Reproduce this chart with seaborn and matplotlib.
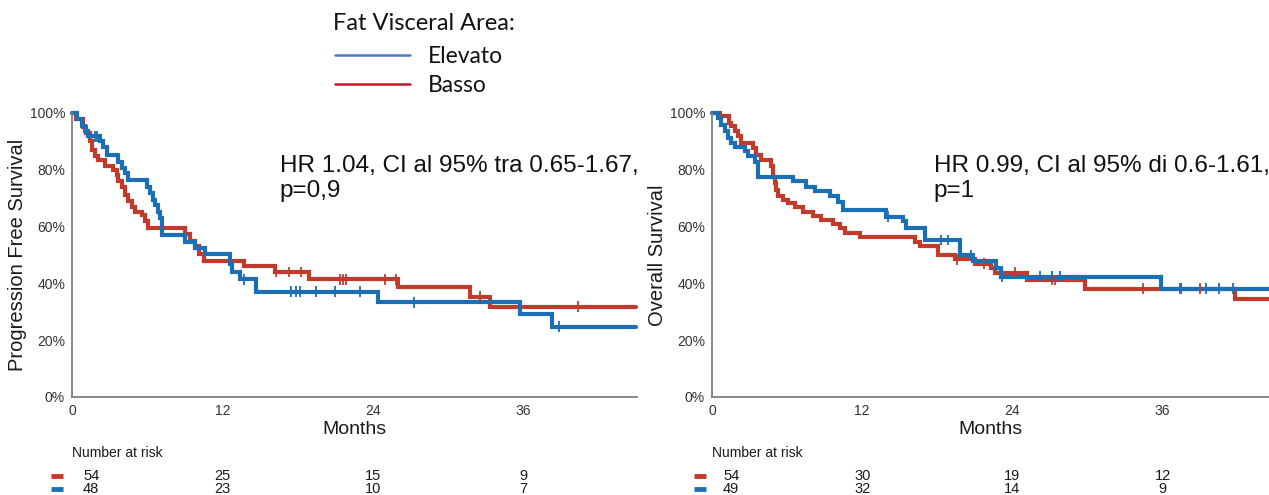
import numpy as np
import pandas as pd
import matplotlib
matplotlib.use("Agg")
import matplotlib.pyplot as plt
import seaborn as sns
from matplotlib.lines import Line2D
from matplotlib.transforms import blended_transform_factory, offset_copy

# ---------------- data ----------------
groups = ["Basso", "Elevato"]
legend_labels = ["Elevato", "Basso"]

# Progression free survival
pfs_basso_t = [0, 0.3, 0.9, 1.1, 1.4, 1.6, 1.8, 2.1, 2.6, 3.3, 3.6, 3.7, 4.0, 4.2, 4.5, 4.8,
               5.0, 5.6, 5.8, 6.1, 9.0, 9.4, 9.8, 10.1, 10.5, 13.7, 16.2, 18.9, 26.0,
               31.8, 33.4, 45.0]
pfs_basso_s = [1.0, 0.98, 0.95, 0.93, 0.90, 0.87, 0.85, 0.835, 0.815, 0.80, 0.78, 0.76, 0.74,
               0.71, 0.69, 0.67, 0.65, 0.64, 0.62, 0.594, 0.575, 0.55, 0.53, 0.505, 0.48,
               0.46, 0.44, 0.415, 0.386, 0.353, 0.318, 0.318]
pfs_basso_cens = [16.3, 17.3, 18.3, 21.4, 21.65, 21.9, 25.0, 25.9, 32.6, 40.4]

pfs_elev_t = [0, 0.4, 0.77, 1.04, 1.3, 2.23, 2.5, 2.77, 3.7, 3.96, 4.23, 4.5, 5.96, 6.2, 6.5,
              6.6, 6.9, 7.05, 7.16, 9.0, 9.8, 10.6, 12.6, 12.75, 13.4, 14.7, 24.4, 35.8,
              38.3, 45.0]
pfs_elev_s = [1.0, 0.98, 0.953, 0.935, 0.918, 0.90, 0.882, 0.853, 0.829, 0.806, 0.788, 0.765,
              0.741, 0.718, 0.694, 0.676, 0.653, 0.63, 0.571, 0.547, 0.524, 0.504, 0.47,
              0.441, 0.415, 0.371, 0.333, 0.291, 0.247, 0.247]
pfs_elev_cens = [1.84, 2.0, 13.7, 17.5, 17.85, 18.2, 19.5, 21.0, 23.0, 27.3, 38.9]

# Overall survival
os_basso_t = [0, 0.6, 1.36, 1.55, 1.8, 2.08, 2.35, 3.28, 3.55, 3.95, 4.74, 4.87, 5.0, 5.14,
              5.27, 5.67, 6.07, 6.6, 7.27, 8.07, 8.7, 9.67, 10.2, 10.6, 11.8, 16.2, 16.6,
              18.05, 19.4, 21.0, 22.3, 22.6, 25.2, 29.8, 41.8, 44.5]
os_basso_s = [1.0, 0.988, 0.965, 0.953, 0.935, 0.918, 0.894, 0.876, 0.853, 0.835, 0.812,
              0.776, 0.753, 0.729, 0.706, 0.694, 0.682, 0.668, 0.653, 0.639, 0.624, 0.61,
              0.594, 0.576, 0.562, 0.547, 0.533, 0.50, 0.485, 0.47, 0.455, 0.438, 0.412,
              0.382, 0.344, 0.344]
os_basso_cens = [19.55, 21.7, 24.2, 27.2, 27.4, 34.4, 37.4, 37.5, 39.0]

os_elev_t = [0, 0.48, 0.75, 1.01, 1.28, 1.55, 1.8, 2.6, 2.88, 3.4, 3.67, 6.47, 7.54, 8.2, 9.4,
             10.06, 10.46, 13.9, 15.26, 15.5, 17.0, 19.8, 20.85, 22.7, 23.1, 35.9, 44.5]
os_elev_s = [1.0, 0.982, 0.959, 0.935, 0.912, 0.894, 0.882, 0.865, 0.847, 0.829, 0.776, 0.759,
             0.741, 0.724, 0.706, 0.688, 0.659, 0.635, 0.618, 0.594, 0.553, 0.50, 0.479,
             0.453, 0.424, 0.382, 0.382]
os_elev_cens = [14.06, 18.3, 18.85, 20.7, 23.2, 26.2, 27.2, 27.8, 37.5, 39.5, 40.5, 41.6]

risk_times = [0, 12, 24, 36]
pfs_risk_basso = [54, 25, 15, 9]
pfs_risk_elev = [48, 23, 10, 7]
os_risk_basso = [54, 30, 19, 12]
os_risk_elev = [49, 32, 14, 9]

y_ticks = [0, 0.2, 0.4, 0.6, 0.8, 1.0]
y_ticklabels = ["0%", "20%", "40%", "60%", "80%", "100%"]

hr_pfs = "HR 1.04, CI al 95% tra 0.65-1.67,\np=0,9"
hr_os = "HR 0.99, CI al 95% di 0.6-1.61,\np=1"

# ---------------- style ----------------
RED = "#c13b2c"
BLUE = "#1b70b5"
LEG_RED = "#c0182b"
LEG_BLUE = "#4a7cc7"
palette = {"Basso": RED, "Elevato": BLUE}

sns.set_style("white")
plt.rcParams["font.family"] = ["Liberation Sans", "DejaVu Sans"]

W, H = 1269, 495
fig = plt.figure(figsize=(W / 100, H / 100), dpi=100)


def px_axes(l, t, r, b):
    return fig.add_axes([l / W, 1 - b / H, (r - l) / W, (b - t) / H])


def curve_frame(tb, sb, te, se):
    return pd.concat([
        pd.DataFrame({"time": tb, "surv": sb, "group": "Basso"}),
        pd.DataFrame({"time": te, "surv": se, "group": "Elevato"}),
    ], ignore_index=True)


def cens_frame(tb, sb, cb, te, se, ce):
    def vals(t, s, c):
        idx = np.searchsorted(np.asarray(t), np.asarray(c), side="right") - 1
        return np.asarray(s)[idx]
    return pd.concat([
        pd.DataFrame({"time": cb, "surv": vals(tb, sb, cb), "group": "Basso"}),
        pd.DataFrame({"time": ce, "surv": vals(te, se, ce), "group": "Elevato"}),
    ], ignore_index=True)


def draw_panel(ax, curves, cens, xmax, ylabel, hr_text, risk_b, risk_e, ylab_x, hr_x):
    sns.lineplot(data=curves, x="time", y="surv", hue="group", hue_order=groups,
                 palette=palette, drawstyle="steps-post", linewidth=3.0,
                 estimator=None, sort=False, legend=False, ax=ax)
    sns.scatterplot(data=cens, x="time", y="surv", hue="group", hue_order=groups,
                    palette=palette, marker="|", s=60, linewidth=1.3,
                    legend=False, ax=ax, zorder=3)
    for ln in ax.lines:
        ln.set_clip_on(False)
        ln.set_solid_joinstyle("miter")
    ax.set_xlim(0, xmax)
    ax.set_ylim(0, 1.0)
    ax.set_xticks(risk_times)
    ax.set_xticklabels([str(t) for t in risk_times])
    ax.set_yticks(y_ticks)
    ax.set_yticklabels(y_ticklabels)
    for s in ["top", "right"]:
        ax.spines[s].set_visible(False)
    for s in ["left", "bottom"]:
        ax.spines[s].set_color("#7f7f7f")
        ax.spines[s].set_linewidth(1.3)
    ax.tick_params(axis="both", length=3, width=1, color="#7f7f7f",
                   labelsize=10, labelcolor="#333333", pad=2)
    ax.set_xlabel("Months", fontsize=14, color="#1a1a1a")
    ax.xaxis.set_label_coords(0.5, -0.083)
    ax.set_ylabel(ylabel, fontsize=14.5, color="#1a1a1a")
    ax.yaxis.set_label_coords(ylab_x, 0.5)
    ax.text(hr_x, 0.852, hr_text, transform=ax.transAxes, fontsize=17.5,
            va="top", ha="left", color="#111111", linespacing=1.2)

    # number at risk table
    tr = blended_transform_factory(ax.transData, fig.transFigure)
    ax.text(0, 1 - 453 / H, "Number at risk", transform=tr, fontsize=10,
            va="center", ha="left", color="#1a1a1a")
    rows = [(risk_b, 1 - 476 / H), (risk_e, 1 - 489 / H)]
    for vals, yy in rows:
        for t, v in zip(risk_times, vals):
            if t == risk_times[0]:
                trf = offset_copy(tr, fig=fig, x=11, y=0, units="dots")
                ax.text(t, yy, str(v), transform=trf, fontsize=10.5, va="center",
                        ha="left", color="#1a1a1a")
            else:
                ax.text(t, yy, str(v), transform=tr, fontsize=10.5, va="center",
                        ha="center", color="#1a1a1a")


ax1 = px_axes(72, 113, 637, 397)
ax2 = px_axes(712, 113, 1269, 397)

draw_panel(ax1,
           curve_frame(pfs_basso_t, pfs_basso_s, pfs_elev_t, pfs_elev_s),
           cens_frame(pfs_basso_t, pfs_basso_s, pfs_basso_cens,
                      pfs_elev_t, pfs_elev_s, pfs_elev_cens),
           45.1, "Progression Free Survival", hr_pfs, pfs_risk_basso, pfs_risk_elev,
           -0.08, 0.368)
draw_panel(ax2,
           curve_frame(os_basso_t, os_basso_s, os_elev_t, os_elev_s),
           cens_frame(os_basso_t, os_basso_s, os_basso_cens,
                      os_elev_t, os_elev_s, os_elev_cens),
           44.5, "Overall Survival", hr_os, os_risk_basso, os_risk_elev,
           -0.081, 0.398)

# risk-table colour dashes
for x0, x1 in [(51, 63), (694, 706)]:
    for yy, col in [(476, RED), (489, BLUE)]:
        fig.add_artist(Line2D([x0 / W, x1 / W], [1 - yy / H, 1 - yy / H],
                              transform=fig.transFigure, color=col, linewidth=3.5,
                              solid_capstyle="butt"))

# top legend
leg_font = ["Lato", "DejaVu Sans"]
fig.text(333 / W, 1 - 24 / H, "Fat Visceral Area:", fontsize=17, family=leg_font,
         va="center", ha="left", color="#111111")
for (lab, col, yy) in [(legend_labels[0], LEG_BLUE, 55), (legend_labels[1], LEG_RED, 84)]:
    fig.add_artist(Line2D([335 / W, 410 / W], [1 - yy / H, 1 - yy / H],
                          transform=fig.transFigure, color=col, linewidth=1.8))
    fig.text(428 / W, 1 - (yy + 1) / H, lab, fontsize=16.5, family=leg_font,
             va="center", ha="left", color="#111111")

fig.savefig("out.png", dpi=100, facecolor="white")
